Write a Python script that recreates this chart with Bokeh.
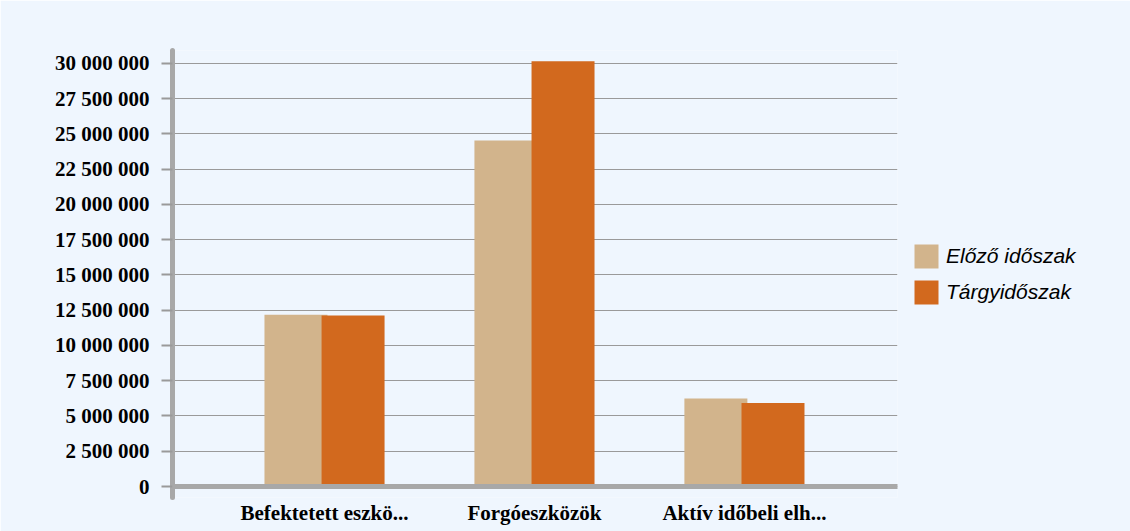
from bokeh.plotting import figure
from bokeh.models import Range1d, FixedTicker, Span, Legend, LegendItem, ColumnDataSource
from bokeh.transform import dodge
from bokeh.embed import file_html
from bokeh.resources import INLINE

categories = ["Befektetett eszkö...", "Forgóeszközök", "Aktív időbeli elh..."]
elozo = [12180000, 24540000, 6240000]
targy = [12130000, 30160000, 5930000]
series_names = ["Előző időszak", "Tárgyidőszak"]
series_colors = ["#D2B48C", "#D2691E"]
y_ticks = [0, 2500000, 5000000, 7500000, 10000000, 12500000, 15000000,
           17500000, 20000000, 22500000, 25000000, 27500000, 30000000]
y_labels = [f"{v:,}".replace(",", " ") for v in y_ticks]

BG = "#EFF6FE"
AXIS_GRAY = "#A8A8A8"

xs = list(range(len(categories)))
source = ColumnDataSource(dict(x=xs, elozo=elozo, targy=targy))

p = figure(frame_width=725, frame_height=447, output_backend="svg", toolbar_location=None,
           x_range=Range1d(-0.724, 2.729), y_range=Range1d(-780000, 30920000),
           min_border_left=172, min_border_right=233, min_border_top=50, min_border_bottom=34)
p.background_fill_color = BG
p.border_fill_color = BG
p.outline_line_color = None

r1 = p.vbar(x=dodge("x", -0.136, range=p.x_range), top="elozo", bottom=0, width=0.3,
            source=source, fill_color=series_colors[0], line_color=None)
r2 = p.vbar(x=dodge("x", 0.136, range=p.x_range), top="targy", bottom=0, width=0.3,
            source=source, fill_color=series_colors[1], line_color=None)

# grid
p.xgrid.visible = False
p.ygrid.ticker = FixedTicker(ticks=y_ticks)
p.ygrid.grid_line_color = "#9A9A9A"
p.ygrid.grid_line_width = 1.2

# zero line
p.add_layout(Span(location=0, dimension="width", line_color=AXIS_GRAY, line_width=5,
                  line_cap="round", level="overlay"))

# y axis
ya = p.yaxis[0]
ya.ticker = FixedTicker(ticks=y_ticks)
ya.major_label_overrides = {t: l for t, l in zip(y_ticks, y_labels)}
ya.axis_line_color = AXIS_GRAY
ya.axis_line_width = 5
ya.axis_line_cap = "round"
ya.major_tick_in = 0
ya.major_tick_out = 11
ya.major_tick_line_color = "#9A9A9A"
ya.major_tick_line_width = 2
ya.minor_tick_line_color = None
ya.major_label_standoff = 12
ya.major_label_text_font = "Liberation Serif"
ya.major_label_text_font_style = "bold"
ya.major_label_text_font_size = "21px"
ya.major_label_text_color = "black"

# x axis
xa = p.xaxis[0]
xa.ticker = FixedTicker(ticks=xs)
xa.major_label_overrides = {i: c for i, c in zip(xs, categories)}
xa.axis_line_color = None
xa.major_tick_line_color = None
xa.minor_tick_line_color = None
xa.major_tick_out = 0
xa.major_tick_in = 0
xa.major_label_standoff = 3
xa.major_label_text_font = "Liberation Serif"
xa.major_label_text_font_style = "bold"
xa.major_label_text_font_size = "21px"
xa.major_label_text_color = "black"

legend = Legend(items=[LegendItem(label=series_names[0], renderers=[r1]),
                       LegendItem(label=series_names[1], renderers=[r2])],
                location="center_left", glyph_width=30, glyph_height=30, spacing=6,
                label_standoff=5, padding=0, margin=14, label_height=30,
                border_line_color=None, background_fill_alpha=0,
                label_text_font="Liberation Sans", label_text_font_style="italic",
                label_text_font_size="21px", label_text_color="black")
p.add_layout(legend, "right")

open("out.html", "w").write(file_html(p, INLINE))
